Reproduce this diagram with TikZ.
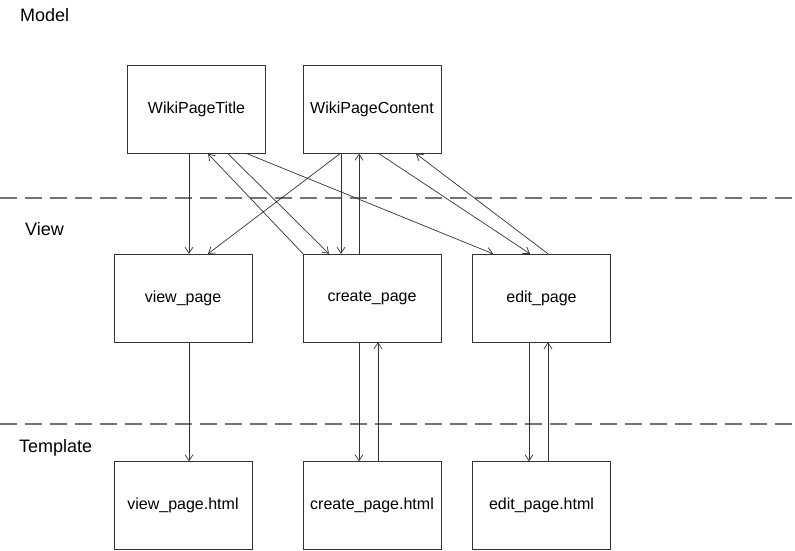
\documentclass[tikz,border=0pt]{standalone}
\usepackage{fontspec}
\setmainfont{Liberation Sans}
\usetikzlibrary{arrows.meta}

\begin{document}
\begin{tikzpicture}[x=1pt,y=-1pt]
        \tikzset{block/.style= {draw=black!80, rectangle, align=center,minimum width=138pt,minimum height=88pt,inner sep=0pt,font=\fontsize{16}{19}\selectfont},
        layer/.style={anchor=west,inner sep=0pt,font=\fontsize{18}{21}\selectfont},
        sep/.style={draw=black!55,line width=1.2pt,dash pattern=on 17pt off 8pt},
        link/.style={draw=black!80,line width=0.7pt,->},
        >={Straight Barb[length=6pt,width=8pt]},
        }
        \useasboundingbox (0,0) rectangle (795,551);

%% layers
        \coordinate (sepA0) at (0,198);
        \coordinate (sepA1) at (795,198);
        \coordinate (sepB0) at (0,424);
        \coordinate (sepB1) at (795,424);
        \path[sep] (sepA0) -- (sepA1);
        \path[sep] (sepB0) -- (sepB1);
        \node [layer] (model) at (20,15) {Model};
        \node [layer] (view) at (25,229) {View};
        \node [layer] (template) at (19,448) {Template};

%% boxes
        \node [block] (title) at (196.5,109.5) {WikiPageTitle};
        \node [block] (content) at (372,109.5) {WikiPageContent};
        \node [block] (viewpage) at (183,298) {view\_page};
        \node [block] (createpage) at (372,298) {create\_page};
        \node [block] (editpage) at (541.5,298) {edit\_page};
        \node [block] (viewhtml) at (183,505.5) {view\_page.html};
        \node [block] (createhtml) at (372,505.5) {create\_page.html};
        \node [block] (edithtml) at (541.5,505.5) {edit\_page.html};

%% paths
        \path[every edge/.style=link]
                    ([xshift=-7.5pt]title.south) edge ([xshift=6pt]viewpage.north)
                    ([xshift=-32pt]content.south) edge ([xshift=25pt]viewpage.north)
                    ([xshift=-69pt]createpage.north) edge ([xshift=11.5pt]title.south)
                    ([xshift=31.5pt]title.south) edge ([xshift=-43pt]createpage.north)
                    ([xshift=50.5pt]title.south) edge ([xshift=-48.5pt]editpage.north)
                    ([xshift=-31pt]content.south) edge ([xshift=-31pt]createpage.north)
                    ([xshift=-13pt]createpage.north) edge ([xshift=-13pt]content.south)
                    ([xshift=7pt]content.south) edge ([xshift=-11.5pt]editpage.north)
                    ([xshift=6.5pt]editpage.north) edge ([xshift=44pt]content.south)
                    ([xshift=6pt]viewpage.south) edge ([xshift=6pt]viewhtml.north)
                    ([xshift=-13pt]createpage.south) edge ([xshift=-13pt]createhtml.north)
                    ([xshift=6pt]createhtml.north) edge ([xshift=6pt]createpage.south)
                    ([xshift=-12.5pt]editpage.south) edge ([xshift=-12.5pt]edithtml.north)
                    ([xshift=6.5pt]edithtml.north) edge ([xshift=6.5pt]editpage.south);
    \end{tikzpicture}
\end{document}
